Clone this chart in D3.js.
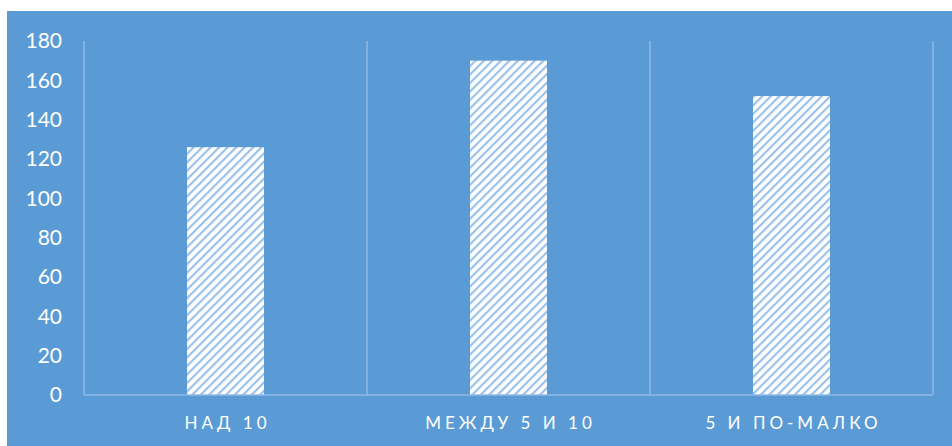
<!DOCTYPE html>
<html>
<head>
<meta charset="utf-8">
<script src="https://cdn.jsdelivr.net/npm/d3@7"></script>
<style>
  body { margin: 0; background: #fff; }
  text { font-family: Lato, "Open Sans", sans-serif; }
</style>
</head>
<body>
<svg id="chart"></svg>
<script>
const categories = ["НАД 10", "МЕЖДУ 5 И 10", "5 И ПО-МАЛКО"];
const values = [126, 170, 152];
const yTicks = [0, 20, 40, 60, 80, 100, 120, 140, 160, 180];

const W = 952, H = 446;
const margin = {top: 41, right: 19, bottom: 51, left: 84};

const svg = d3.select("#chart")
    .attr("width", W)
    .attr("height", H);

// pattern for the bars
const defs = svg.append("defs");
const pat = defs.append("pattern")
    .attr("id", "hatch")
    .attr("patternUnits", "userSpaceOnUse")
    .attr("width", 6)
    .attr("height", 6)
    .attr("patternTransform", "rotate(45)");
pat.append("rect").attr("width", 6).attr("height", 6).attr("fill", "#ffffff");
pat.append("rect").attr("x", 0).attr("width", 2.2).attr("height", 6).attr("fill", "#9cc2e8");

// background
svg.append("rect")
    .attr("x", 7).attr("y", 11)
    .attr("width", W - 7).attr("height", H - 11)
    .attr("fill", "#5b9bd5");

const y = d3.scaleLinear()
    .domain([0, 180])
    .range([H - margin.bottom, margin.top]);

const xGrid = d3.scaleBand()
    .domain(categories)
    .range([margin.left, W - margin.right])
    .padding(0);

const x = d3.scaleBand()
    .domain(categories)
    .range([margin.left, W - margin.right])
    .paddingInner(0.728)
    .paddingOuter(0.364);

const gridColor = "#8cb9e3";

// vertical gridlines at category borders
const borders = categories.map(c => xGrid(c)).concat([xGrid.range()[1]]);
svg.append("g").selectAll("line")
    .data(borders)
    .join("line")
    .attr("x1", d => d).attr("x2", d => d)
    .attr("y1", y(180)).attr("y2", y(0))
    .attr("stroke", gridColor)
    .attr("stroke-width", 1.5);

// bars
svg.append("g").selectAll("rect")
    .data(values)
    .join("rect")
    .attr("x", (d, i) => x(categories[i]))
    .attr("width", x.bandwidth())
    .attr("y", d => y(d))
    .attr("height", d => y(0) - y(d))
    .attr("fill", "url(#hatch)");

// baseline
svg.append("line")
    .attr("x1", margin.left).attr("x2", W - margin.right)
    .attr("y1", y(0)).attr("y2", y(0))
    .attr("stroke", gridColor)
    .attr("stroke-width", 1.5);

// y axis
const yAxis = svg.append("g")
    .attr("transform", `translate(${margin.left},0)`)
    .call(d3.axisLeft(y).tickValues(yTicks).tickSize(0).tickPadding(22));
yAxis.select(".domain").remove();
yAxis.selectAll("text")
    .attr("fill", "#ffffff")
    .style("font-size", "21px");

// x labels
svg.append("g").selectAll("text")
    .data(categories)
    .join("text")
    .attr("x", d => x(d) + x.bandwidth() / 2 + 2)
    .attr("y", y(0) + 34)
    .attr("text-anchor", "middle")
    .attr("fill", "#ffffff")
    .attr("letter-spacing", 4)
    .style("font-size", "17px")
    .text(d => d);
</script>
</body>
</html>
